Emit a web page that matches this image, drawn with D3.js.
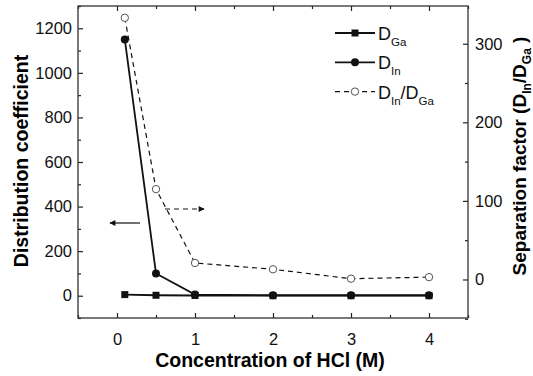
<!DOCTYPE html>
<html>
<head>
<meta charset="utf-8">
<script src="https://cdn.jsdelivr.net/npm/d3@7"></script>
<style>
  body { margin: 0; background: #fff; }
  svg { display: block; font-family: "Liberation Sans", Arial, sans-serif; }
</style>
</head>
<body>
<div class="chart"></div>
<script>
// 数据
const conc = [0.1, 0.5, 1, 2, 3, 4]
const dGa = [5, 2, 1, 0, 0, 0]
const dIn = [1150, 100, 5, 2, 2, 2]
const ratio = [333, 115, 21, 13, 1, 3]
const xTicks = [0, 1, 2, 3, 4]
const yLeftTicks = [0, 200, 400, 600, 800, 1000, 1200]
const yRightTicks = [0, 100, 200, 300]

const W = 533, H = 376
const box = { left: 78, right: 468, top: 6, bottom: 318 }

const svg = d3.select('.chart').append('svg')
  .attr('width', W).attr('height', H)

const x = d3.scaleLinear().domain([-0.5, 4.5]).range([box.left, box.right])
const yL = d3.scaleLinear().domain([-100, 1300]).range([box.bottom, box.top])
const yR = d3.scaleLinear().domain([-49, 348]).range([box.bottom, box.top])

// 坐标轴
function styleAxis (g) {
  g.select('.domain').remove()
  g.selectAll('line').attr('stroke', '#222').attr('stroke-width', 1.2)
  g.selectAll('text').attr('fill', '#111').attr('font-size', 16.5)
}

const minorX = d3.range(-0.5, 4.51, 0.5).filter(d => !xTicks.includes(d))
// bottom
svg.append('g').attr('transform', `translate(0,${box.bottom})`)
  .call(d3.axisBottom(x).tickValues(xTicks).tickFormat(d3.format('d')).tickSizeInner(-5).tickSizeOuter(0).tickPadding(15))
  .call(styleAxis)
svg.append('g').attr('transform', `translate(0,${box.bottom})`)
  .call(d3.axisBottom(x).tickValues(minorX).tickFormat('').tickSizeInner(-3).tickSizeOuter(0))
  .call(styleAxis)
// top
svg.append('g').attr('transform', `translate(0,${box.top})`)
  .call(d3.axisTop(x).tickValues(xTicks).tickFormat('').tickSizeInner(-5).tickSizeOuter(0))
  .call(styleAxis)
svg.append('g').attr('transform', `translate(0,${box.top})`)
  .call(d3.axisTop(x).tickValues(minorX).tickFormat('').tickSizeInner(-3).tickSizeOuter(0))
  .call(styleAxis)
// left
svg.append('g').attr('transform', `translate(${box.left},0)`)
  .call(d3.axisLeft(yL).tickValues(yLeftTicks).tickFormat(d3.format('d')).tickSizeInner(-5).tickSizeOuter(0).tickPadding(6))
  .call(styleAxis)
svg.append('g').attr('transform', `translate(${box.left},0)`)
  .call(d3.axisLeft(yL).tickValues(d3.range(-100, 1301, 200)).tickFormat('').tickSizeInner(-3).tickSizeOuter(0))
  .call(styleAxis)
// right
svg.append('g').attr('transform', `translate(${box.right},0)`)
  .call(d3.axisRight(yR).tickValues(yRightTicks).tickFormat(d3.format('d')).tickSizeInner(-5).tickSizeOuter(0).tickPadding(7))
  .call(styleAxis)
svg.append('g').attr('transform', `translate(${box.right},0)`)
  .call(d3.axisRight(yR).tickValues([-50, 50, 150, 250]).tickFormat('').tickSizeInner(-3).tickSizeOuter(0))
  .call(styleAxis)

svg.append('rect')
  .attr('x', box.left).attr('y', box.top)
  .attr('width', box.right - box.left).attr('height', box.bottom - box.top)
  .attr('fill', 'none').attr('stroke', '#333').attr('stroke-width', 1.3)

// 轴标题
svg.append('text')
  .attr('transform', 'translate(28,161) rotate(-90)')
  .attr('text-anchor', 'middle').attr('font-size', 19.5).attr('font-weight', 'bold')
  .text('Distribution coefficient')

const rt = svg.append('text')
  .attr('transform', 'translate(526,156) rotate(-90)')
  .attr('text-anchor', 'middle').attr('font-size', 19).attr('font-weight', 'bold')
rt.append('tspan').text('Separation factor (D')
rt.append('tspan').attr('font-size', 12).attr('dy', 5).text('In')
rt.append('tspan').attr('dy', -5).text('/D')
rt.append('tspan').attr('font-size', 12).attr('dy', 5).text('Ga')
rt.append('tspan').attr('dy', -5).text(' )')

svg.append('text')
  .attr('x', 270).attr('y', 367)
  .attr('text-anchor', 'middle').attr('font-size', 19.5).attr('font-weight', 'bold')
  .text('Concentration of HCl (M)')

// 曲线
const lineL = d3.line().x((d, i) => x(conc[i])).y(d => yL(d))
const lineR = d3.line().x((d, i) => x(conc[i])).y(d => yR(d))

svg.append('path').datum(ratio).attr('d', lineR)
  .attr('fill', 'none').attr('stroke', '#111').attr('stroke-width', 1.2).attr('stroke-dasharray', '5,4')
svg.append('path').datum(dGa).attr('d', lineL)
  .attr('fill', 'none').attr('stroke', '#111').attr('stroke-width', 1.8)
svg.append('path').datum(dIn).attr('d', lineL)
  .attr('fill', 'none').attr('stroke', '#111').attr('stroke-width', 1.8)

svg.selectAll('.m-ga').data(dGa).enter().append('rect')
  .attr('x', (d, i) => x(conc[i]) - 3.5).attr('y', d => yL(d) - 3.5)
  .attr('width', 7).attr('height', 7).attr('fill', '#111')
svg.selectAll('.m-in').data(dIn).enter().append('circle')
  .attr('cx', (d, i) => x(conc[i])).attr('cy', d => yL(d)).attr('r', 4).attr('fill', '#111')
svg.selectAll('.m-r').data(ratio).enter().append('circle')
  .attr('cx', (d, i) => x(conc[i])).attr('cy', d => yR(d)).attr('r', 3.7)
  .attr('fill', '#fff').attr('stroke', '#555').attr('stroke-width', 1)

// 箭头
const defs = svg.append('defs')
defs.append('marker').attr('id', 'arr').attr('viewBox', '0 0 10 10')
  .attr('refX', 9).attr('refY', 5).attr('markerWidth', 9).attr('markerHeight', 6)
  .attr('markerUnits', 'userSpaceOnUse').attr('orient', 'auto')
  .append('path').attr('d', 'M0,0L10,5L0,10Z').attr('fill', '#111')

svg.append('line').attr('x1', 140).attr('y1', 223).attr('x2', 110).attr('y2', 223)
  .attr('stroke', '#111').attr('stroke-width', 1.2).attr('marker-end', 'url(#arr)')
svg.append('line').attr('x1', 165).attr('y1', 209).attr('x2', 204).attr('y2', 209)
  .attr('stroke', '#111').attr('stroke-width', 1.2).attr('stroke-dasharray', '5,4').attr('marker-end', 'url(#arr)')

// 图例
const legend = [
  { main: 'D', sub: 'Ga', dash: null, marker: 'square' },
  { main: 'D', sub: 'In', dash: null, marker: 'circle' },
  { main: 'D', sub: 'In', tail: '/D', sub2: 'Ga', dash: '5,4', marker: 'open' }
]
const lg = svg.append('g')
legend.forEach((d, i) => {
  const cy = 33 + i * 29.3
  lg.append('line').attr('x1', 335).attr('x2', 375).attr('y1', cy).attr('y2', cy)
    .attr('stroke', '#111').attr('stroke-width', d.dash ? 1.2 : 1.8)
    .attr('stroke-dasharray', d.dash)
  if (d.marker === 'square') {
    lg.append('rect').attr('x', 351.5).attr('y', cy - 3.5).attr('width', 7).attr('height', 7).attr('fill', '#111')
  } else if (d.marker === 'circle') {
    lg.append('circle').attr('cx', 355).attr('cy', cy).attr('r', 4).attr('fill', '#111')
  } else {
    lg.append('circle').attr('cx', 355).attr('cy', cy).attr('r', 3.7)
      .attr('fill', '#fff').attr('stroke', '#555')
  }
  const t = lg.append('text').attr('x', 378).attr('y', cy + 7).attr('font-size', 18).attr('fill', '#111')
  t.append('tspan').text(d.main)
  t.append('tspan').attr('font-size', 11.5).attr('dy', 6).text(d.sub)
  if (d.tail) {
    t.append('tspan').attr('dy', -6).text(d.tail)
    t.append('tspan').attr('font-size', 11.5).attr('dy', 6).text(d.sub2)
  }
})
</script>
</body>
</html>
